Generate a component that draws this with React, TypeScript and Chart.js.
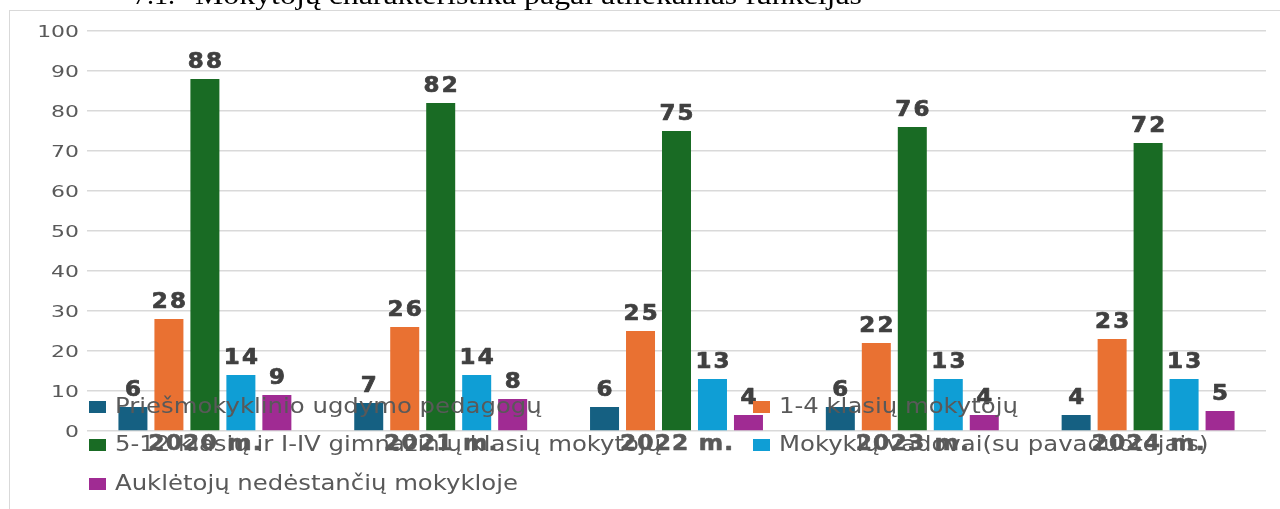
import React, { useEffect, useRef } from "react";
import { Chart, registerables } from "chart.js";

Chart.register(...registerables);

const categories = ["2020 m.", "2021 m.", "2022 m.", "2023 m.", "2024 m."];
const seriesNames = [
  "Priešmokyklinio ugdymo pedagogų",
  "1-4 klasių mokytojų",
  "5-12 klasių ir I-IV gimnazinių klasių mokytojų",
  "Mokyklų vadovai(su pavaduotojais)",
  "Auklėtojų nedėstančių mokykloje",
];
const preschool = [6, 7, 6, 6, 4];
const grades1to4 = [28, 26, 25, 22, 23];
const grades5to12 = [88, 82, 75, 76, 72];
const leaders = [14, 14, 13, 13, 13];
const caretakers = [9, 8, 4, 4, 5];
const seriesColors = ["#156082", "#E97132", "#196B24", "#0F9ED5", "#A02B93"];
const yTicksMax = 100;
const yTickStep = 10;
const titleNumber = "7.1.";
const titleText = "Mokytojų charakteristika pagal atliekamas funkcijas";

function drawText(
  ctx: CanvasRenderingContext2D,
  text: string,
  x: number,
  y: number,
  font: string,
  color: string,
  sx: number,
  align: "left" | "center" | "right",
  stroke = 0,
  spacing = 0
) {
  ctx.save();
  ctx.font = font;
  (ctx as any).letterSpacing = spacing + "px";
  ctx.fillStyle = color;
  ctx.textBaseline = "alphabetic";
  ctx.textAlign = "left";
  const w = (ctx.measureText(text).width - spacing) * sx;
  const left = align === "center" ? x - w / 2 : align === "right" ? x - w : x;
  ctx.translate(left, y);
  ctx.scale(sx, 1);
  ctx.fillText(text, 0, 0);
  if (stroke > 0) {
    ctx.strokeStyle = color;
    ctx.lineWidth = stroke;
    ctx.lineJoin = "round";
    ctx.strokeText(text, 0, 0);
  }
  ctx.restore();
}

const textPlugin = {
  id: "textPlugin",
  afterDraw(chart: any) {
    const ctx: CanvasRenderingContext2D = chart.ctx;
    const ys = chart.scales.y;
    const xs = chart.scales.x;

    // title (fitted between measured ends)
    drawText(ctx, titleNumber, 133, 4, '28px "Liberation Serif"', "#000000", 1.0, "left");
    ctx.save();
    ctx.font = '28px "Liberation Serif"';
    const tw = ctx.measureText(titleText).width;
    ctx.restore();
    drawText(ctx, titleText, 195, 4, '28px "Liberation Serif"', "#000000", 667 / tw, "left");

    // y tick labels
    ys.ticks.forEach((t: any) => {
      const y = ys.getPixelForValue(t.value);
      drawText(ctx, String(t.value), 79, y + 5.8, '16px "DejaVu Sans"', "#595959", 1.37, "right");
    });

    // data labels
    chart.data.datasets.forEach((ds: any, di: number) => {
      const meta = chart.getDatasetMeta(di);
      meta.data.forEach((el: any, i: number) => {
        drawText(ctx, String(ds.data[i]), el.x, el.y - 11, 'bold 20.5px "DejaVu Sans"', "#404040", 1.12, "center", 0.7, 2);
      });
    });

    // x labels
    categories.forEach((c, i) => {
      const x = xs.getPixelForValue(i);
      drawText(ctx, c, x, 450, 'bold 20.5px "DejaVu Sans"', "#595959", 1.14, "center", 0.6, 1);
    });

    // legend
    const colX = [89, 753];
    const rowBase = [413, 451, 490];
    seriesNames.forEach((name, i) => {
      const col = i % 2;
      const row = Math.floor(i / 2);
      const mx = colX[col];
      const by = rowBase[row];
      ctx.save();
      ctx.fillStyle = seriesColors[i];
      ctx.fillRect(mx, by - 12, 17, 12);
      ctx.restore();
      drawText(ctx, name, mx + 26, by, '22px "DejaVu Sans"', "#595959", 1.107, "left");
    });
  },
};

export default function App() {
  const ref = useRef<HTMLCanvasElement | null>(null);
  useEffect(() => {
    if (!ref.current) return;
    const series = [preschool, grades1to4, grades5to12, leaders, caretakers];
    const chart = new Chart(ref.current, {
      type: "bar",
      data: {
        labels: categories,
        datasets: series.map((d, i) => ({
          label: seriesNames[i],
          data: d,
          backgroundColor: seriesColors[i],
          borderWidth: 0,
          categoryPercentage: 0.763,
          barPercentage: 0.806,
        })),
      },
      options: {
        animation: false,
        responsive: false,
        devicePixelRatio: 1,
        events: [],
        layout: { padding: { top: 31, right: 14, bottom: 0, left: 0 } },
        plugins: {
          legend: { display: false },
          title: { display: false },
          tooltip: { enabled: false },
        },
        scales: {
          x: {
            grid: { display: false, drawTicks: false },
            border: { display: false },
            ticks: { display: false },
            afterFit: (s: any) => {
              s.height = 78;
            },
          },
          y: {
            min: 0,
            max: yTicksMax,
            ticks: { display: false, stepSize: yTickStep },
            grid: { color: "#d9d9d9", lineWidth: 1.5, drawTicks: false },
            border: { display: false },
            afterFit: (s: any) => {
              s.width = 87;
            },
          },
        },
      },
      plugins: [textPlugin],
    });
    return () => chart.destroy();
  }, []);

  return (
    <div style={{ position: "fixed", left: 0, top: 0, width: 1280, height: 509, background: "#fff" }}>
      <div
        style={{
          position: "absolute",
          left: 9,
          top: 10,
          width: 1280,
          height: 520,
          borderLeft: "1px solid #d9d9d9",
          borderTop: "1px solid #d9d9d9",
        }}
      />
      <canvas
        ref={ref}
        width={1280}
        height={509}
        style={{ position: "absolute", left: 0, top: 0, width: 1280, height: 509 }}
      />
    </div>
  );
}
